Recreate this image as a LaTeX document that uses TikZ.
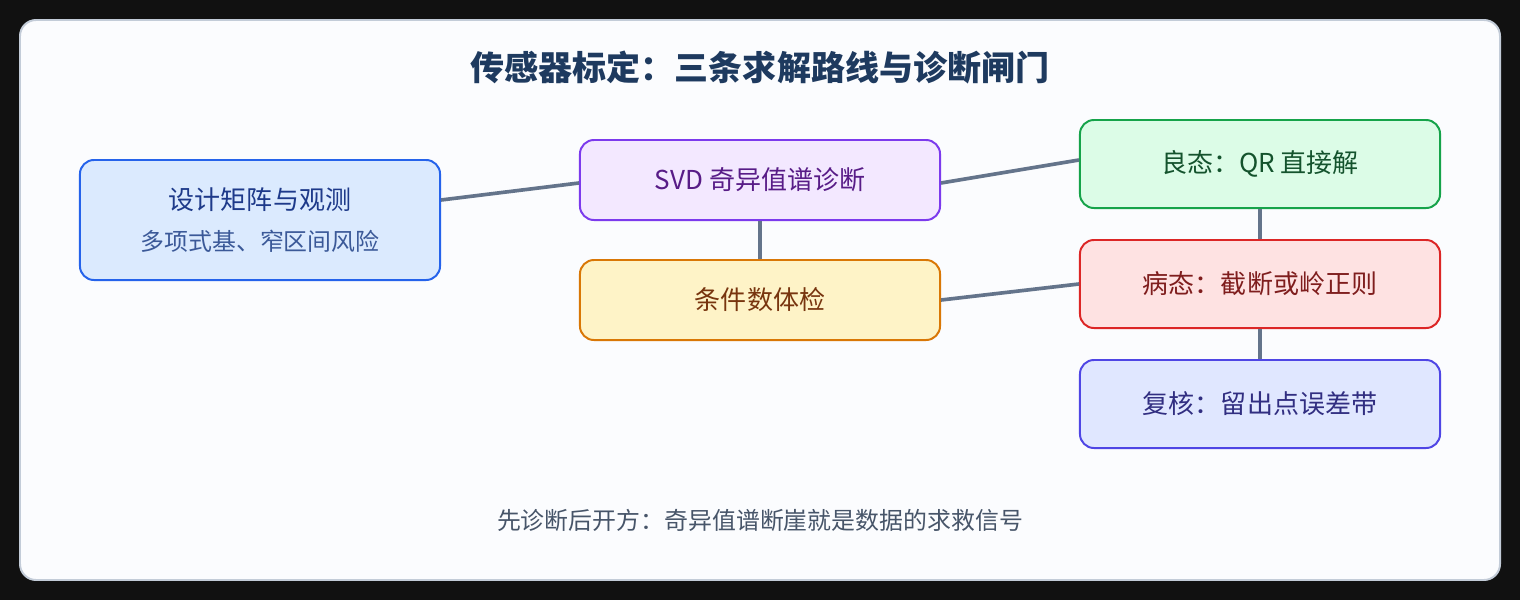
\documentclass[tikz,border=0pt]{standalone}
\usepackage{fontspec}
\setmainfont{Noto Sans CJK SC}
\definecolor{pagebg}{HTML}{111111}
\definecolor{panelbg}{HTML}{FBFCFE}
\definecolor{panelline}{HTML}{C3CCD8}
\definecolor{titleblue}{HTML}{1E3A5F}
\definecolor{linkgray}{HTML}{64748B}
\definecolor{notegray}{HTML}{475569}
\definecolor{bluefill}{HTML}{DBEAFE}
\definecolor{blueline}{HTML}{2563EB}
\definecolor{bluetext}{HTML}{1E3A8A}
\definecolor{bluesub}{HTML}{3B5998}
\definecolor{purplefill}{HTML}{F3E8FF}
\definecolor{purpleline}{HTML}{7C3AED}
\definecolor{purpletext}{HTML}{581C87}
\definecolor{amberfill}{HTML}{FEF3C7}
\definecolor{amberline}{HTML}{D97706}
\definecolor{ambertext}{HTML}{78350F}
\definecolor{greenfill}{HTML}{DCFCE7}
\definecolor{greenline}{HTML}{16A34A}
\definecolor{greentext}{HTML}{14532D}
\definecolor{redfill}{HTML}{FEE2E2}
\definecolor{redline}{HTML}{DC2626}
\definecolor{redtext}{HTML}{7F1D1D}
\definecolor{indigofill}{HTML}{E0E7FF}
\definecolor{indigoline}{HTML}{4F46E5}
\definecolor{indigotext}{HTML}{312E81}
\begin{document}
\begin{tikzpicture}[x=0.025cm,y=-0.025cm,
  box/.style={draw, line width=1.4pt, rounded corners=0.35cm, minimum width=9cm,
    inner sep=0pt, align=center, font=\fontsize{18.5pt}{29pt}\selectfont},
  link/.style={draw=linkgray, line width=2.6pt}]
  \fill[pagebg] (0,0) rectangle (1520,600);
  \draw[draw=panelline, fill=panelbg, line width=1.4pt, rounded corners=0.4cm] (20,20) rectangle (1500,580);
  \node[text=titleblue, font=\fontsize{24.2pt}{30pt}\selectfont\bfseries] (title) at (760,68) {传感器标定：三条求解路线与诊断闸门};
  \node[box, fill=bluefill, draw=blueline, text=bluetext, minimum height=3cm] (design) at (260,220)
    {设计矩阵与观测\\{\fontsize{17pt}{29pt}\selectfont\color{bluesub}多项式基、窄区间风险}};
  \node[box, fill=purplefill, draw=purpleline, text=purpletext, minimum height=2cm] (svd) at (760,180) {SVD 奇异值谱诊断};
  \node[box, fill=amberfill, draw=amberline, text=ambertext, minimum height=2cm] (cond) at (760,300) {条件数体检};
  \node[box, fill=greenfill, draw=greenline, text=greentext, minimum height=2.2cm] (good) at (1260,164) {良态：QR 直接解};
  \node[box, fill=redfill, draw=redline, text=redtext, minimum height=2.2cm] (bad) at (1260,284) {病态：截断或岭正则};
  \node[box, fill=indigofill, draw=indigoline, text=indigotext, minimum height=2.2cm] (check) at (1260,404) {复核：留出点误差带};
  \node[text=notegray, font=\fontsize{17pt}{20pt}\selectfont] (note) at (760,520) {先诊断后开方：奇异值谱断崖就是数据的求救信号};
  \draw[link] ([yshift=0.5cm]design.east) -- ([yshift=-0.075cm]svd.west);
  \draw[link] (svd.south) -- (cond.north);
  \draw[link] ([yshift=-0.075cm]svd.east) -- ([yshift=0.1cm]good.west);
  \draw[link] (cond.east) -- (bad.west);
  \draw[link] (good.south) -- (bad.north);
  \draw[link] (bad.south) -- (check.north);
\end{tikzpicture}
\end{document}
